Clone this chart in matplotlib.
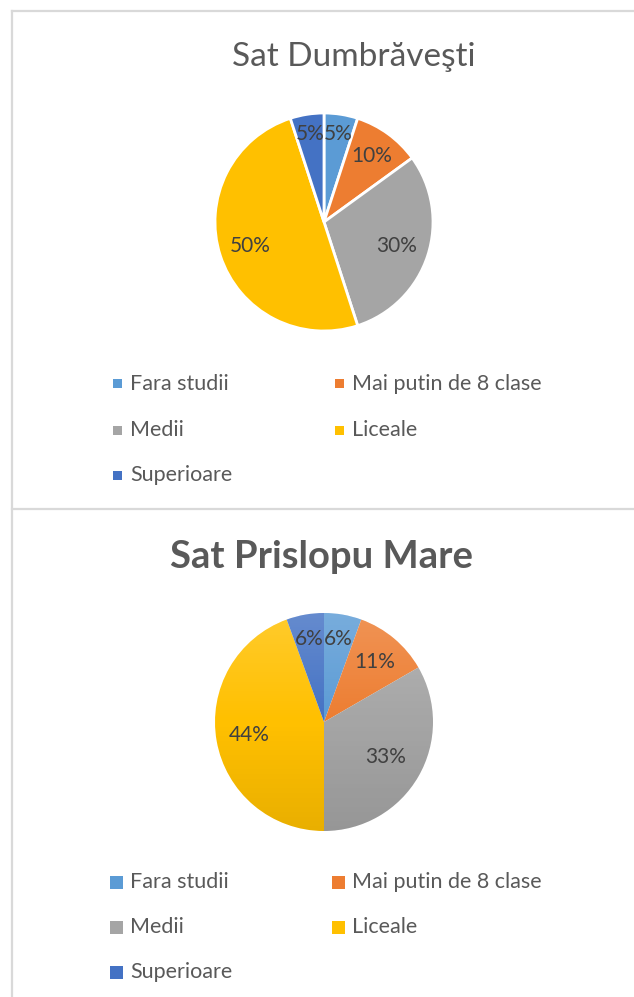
import matplotlib
matplotlib.use("Agg")
import matplotlib.pyplot as plt
import matplotlib.lines as mlines
from matplotlib.patches import Rectangle, Circle
import numpy as np

# ---- data ----
categories = ["Fara studii", "Mai putin de 8 clase", "Medii", "Liceale", "Superioare"]
dumbravesti = [1, 2, 6, 10, 1]
prislopu = [1, 2, 6, 8, 1]
title_top = "Sat Dumbrăveşti"
title_bottom = "Sat Prislopu Mare"
colors = ["#5B9BD5", "#ED7D31", "#A5A5A5", "#FFC000", "#4472C4"]

# ---- layout helpers (pixel coords from top-left) ----
W, H = 634, 997
fig = plt.figure(figsize=(W / 100, H / 100), dpi=100)
fig.patch.set_facecolor("white")
FONT = ["Lato", "DejaVu Sans"]
TITLE_C = "#595959"
LBL_C = "#404040"


def fx(px):
    return px / W


def fy(py):
    return 1 - py / H


BORDER = "#D9D9D9"
for xs, ys in [([12, 12], [11, 997]), ([12, 634], [11, 11]), ([12, 634], [509, 509])]:
    fig.add_artist(mlines.Line2D([fx(x) for x in xs], [fy(y) for y in ys],
                                 color=BORDER, lw=1.6, transform=fig.transFigure))


def draw_pie(values, cx, cy, r, label_dist, edge, gradient):
    ax = fig.add_axes([fx(cx - r), fy(cy + r), 2 * r / W, 2 * r / H])
    wedges, _ = ax.pie(values, colors=colors, startangle=90, counterclock=False,
                       wedgeprops=dict(edgecolor="white" if edge else "none",
                                       linewidth=2.0 if edge else 0))
    for w in wedges:
        w.set_clip_on(False)
    ax.axis("off")
    total = sum(values)
    for w, v, d in zip(wedges, values, label_dist):
        ang = np.deg2rad((w.theta1 + w.theta2) / 2)
        ax.text(d * np.cos(ang), d * np.sin(ang), f"{round(100 * v / total)}%",
                ha="center", va="center", fontsize=15, color=LBL_C, family=FONT,
                zorder=10)
    if gradient:
        n = 256
        t = np.linspace(0, 1, n)
        g = np.zeros((n, 2, 4))
        light = t < 0.5
        g[light, :, :3] = 1.0
        alpha = np.where(light, 0.18 * (0.5 - t) * 2, 0.09 * (t - 0.5) * 2)
        g[:, :, 3] = alpha[:, None]
        im = ax.imshow(g, extent=(-1, 1, -1, 1), origin="upper", zorder=5,
                       interpolation="bilinear", aspect="auto")
        im.set_clip_path(Circle((0, 0), 1, transform=ax.transData))
    ax.set_xlim(-1.0, 1.0)
    ax.set_ylim(-1.0, 1.0)
    ax.set_aspect("equal")
    return ax


def draw_legend(row_ys, col_xs, text_xs, msize):
    for i, (lab, col) in enumerate(zip(categories, colors)):
        r, c = divmod(i, 2)
        y = row_ys[r]
        x = col_xs[c]
        fig.add_artist(Rectangle((fx(x), fy(y + msize / 2)), msize / W, msize / H,
                                 facecolor=col, edgecolor="none", transform=fig.transFigure))
        fig.text(fx(text_xs[c]), fy(y), lab, ha="left", va="center",
                 fontsize=15.5, color=TITLE_C, family=FONT)


# ---- top chart ----
fig.text(fx(354), fy(57), title_top, ha="center", va="center", fontsize=24,
         color=TITLE_C, family=FONT)
draw_pie(dumbravesti, 324, 222, 109, [0.82, 0.75, 0.70, 0.71, 0.82], True, False)
draw_legend([384, 430, 475], [113, 335], [130, 352], 9)

# ---- bottom chart ----
fig.text(fx(322), fy(557), title_bottom, ha="center", va="center", fontsize=27.5,
         color=TITLE_C, family=FONT, fontweight="bold")
draw_pie(prislopu, 324, 722, 109, [0.77, 0.72, 0.65, 0.70, 0.77], False, True)
draw_legend([882, 927, 972], [110, 332], [130, 352], 13)

fig.savefig("out.png", dpi=100)
